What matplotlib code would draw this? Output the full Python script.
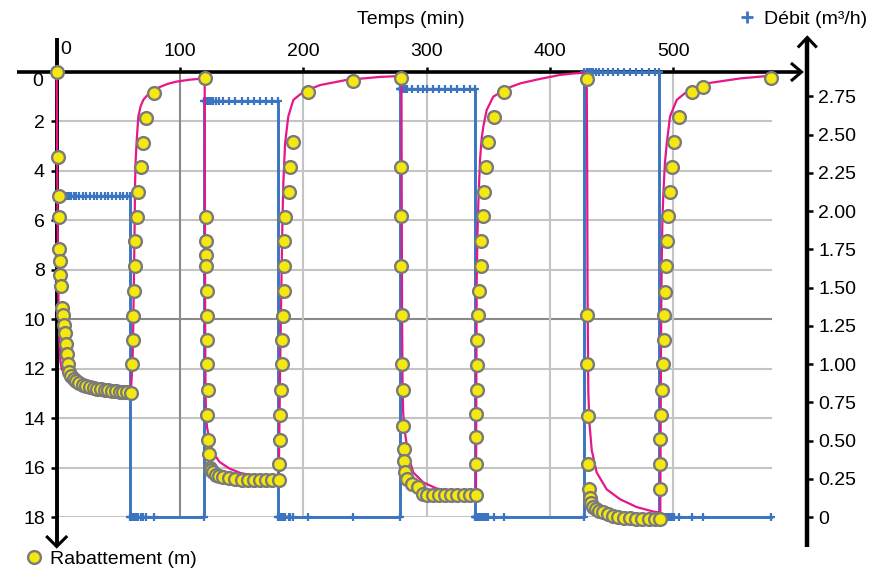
import numpy as np
import matplotlib
matplotlib.use("Agg")
import matplotlib.pyplot as plt
from matplotlib.lines import Line2D

plt.rcParams['font.family'] = ['Liberation Sans', 'DejaVu Sans']

# ---------------------------------------------------------------------------
# Observed drawdown (m) for each stage of the step test, time in minutes
# ---------------------------------------------------------------------------
t_pompage1 = [0, 1.0, 1.7, 1.9, 2.1, 2.7, 2.9, 3.5, 4.5, 5.3, 6.1, 6.7, 7.3, 8.1, 8.9, 10.2,
              12, 14, 16, 18, 21, 24, 27, 30, 33, 36, 39, 42, 45, 48, 51, 54, 57, 60]
s_pompage1 = [0, 3.45, 5.0, 5.85, 7.17, 7.65, 8.2, 8.66, 9.54, 9.84, 10.24, 10.55, 11.0, 11.4, 11.8, 12.13,
              12.3, 12.42, 12.5, 12.57, 12.65, 12.7, 12.75, 12.78, 12.81, 12.84, 12.86, 12.88, 12.9, 12.92,
              12.93, 12.95, 12.96, 12.98]

t_remontee1 = [60.8, 61.6, 62.1, 62.7, 63.3, 63.6, 65.2, 65.6, 68.1, 69.7, 72.2, 79.2, 120.0]
s_remontee1 = [11.83, 10.85, 9.86, 8.85, 7.84, 6.85, 5.85, 4.86, 3.83, 2.86, 1.85, 0.86, 0.26]

t_pompage2 = [121.0, 120.8, 120.8, 121.0, 121.5, 121.5, 121.8, 122.0, 122.3, 122.1, 122.7, 123.8, 124.3,
              125.5, 127, 129, 132, 135, 140, 145, 150, 155, 160, 165, 170, 175, 180]
s_pompage2 = [5.85, 6.85, 7.4, 7.84, 8.85, 9.86, 10.85, 11.83, 12.87, 13.86, 14.9, 15.47, 16.0,
              16.1, 16.2, 16.3, 16.36, 16.4, 16.44, 16.47, 16.5, 16.5, 16.5, 16.5, 16.5, 16.5, 16.5]

t_remontee2 = [180.5, 180.9, 181.1, 181.7, 182.5, 182.7, 183.5, 184.1, 184.6, 184.6, 185.2, 188.6,
               189.2, 191.4, 204.0, 240.0, 279.5]
s_remontee2 = [15.85, 14.87, 13.86, 12.87, 11.83, 10.85, 9.86, 8.85, 7.84, 6.85, 5.85, 4.85,
               3.83, 2.85, 0.82, 0.36, 0.26]

t_pompage3 = [279.5, 279.5, 279.6, 280.3, 280.4, 280.5, 281.1, 281.7, 281.9, 282.5, 284, 288, 293,
              297, 300, 305, 310, 315, 320, 325, 330, 335, 340]
s_pompage3 = [3.83, 5.83, 7.83, 9.84, 11.82, 12.85, 14.33, 15.25, 15.74, 16.18, 16.45, 16.65, 16.8,
              17.05, 17.1, 17.12, 17.12, 17.12, 17.12, 17.12, 17.12, 17.12, 17.12]

t_remontee3 = [340.1, 340.2, 340.3, 340.6, 340.6, 340.7, 341.4, 342.5, 344.2, 344.4, 346.0, 346.8,
               348.2, 349.5, 354.7, 363.0, 429.8]
s_remontee3 = [15.85, 14.78, 13.85, 12.85, 11.86, 10.85, 9.84, 8.85, 7.83, 6.84, 5.83, 4.85,
               3.83, 2.82, 1.83, 0.82, 0.28]

t_pompage4 = [430.0, 430.0, 430.7, 431.1, 431.7, 432.5, 433.5, 435.2, 437.5, 440, 443.3, 447, 451,
              455, 460, 465, 470, 475, 480, 485, 489.3]
s_pompage4 = [9.84, 11.8, 13.9, 15.85, 16.85, 17.25, 17.45, 17.6, 17.68, 17.74, 17.8, 17.88, 17.95,
              18.0, 18.04, 18.06, 18.07, 18.07, 18.07, 18.07, 18.07]

t_remontee4 = [489.0, 489.3, 489.5, 489.9, 490.7, 492.0, 492.2, 492.8, 493.2, 494.2, 494.7, 495.5,
               497.4, 498.8, 500.9, 504.7, 515.0, 524.4, 579.1]
s_remontee4 = [16.87, 15.85, 14.86, 13.86, 12.85, 11.82, 10.85, 9.84, 8.89, 7.83, 6.84, 5.83,
               4.85, 3.83, 2.82, 1.83, 0.82, 0.62, 0.23]

# ---------------------------------------------------------------------------
# Fitted drawdown curve (m)
# ---------------------------------------------------------------------------
tm_pompage1 = [0, 0.3, 0.6, 1.0, 1.5, 2.0, 2.5, 3.0, 4.0, 6.0, 10, 15, 20, 30, 40, 50, 60]
sm_pompage1 = [0, 3.0, 5.5, 7.5, 9.3, 10.5, 11.2, 11.7, 12.0, 12.2, 12.4, 12.55, 12.65, 12.77, 12.85, 12.9, 12.93]

tm_remontee1 = [60.5, 61.0, 61.6, 62.0, 62.5, 63.0, 63.3, 63.5, 64.0, 64.9, 66.2, 68.0, 70.2, 75, 81,
                90, 97, 108, 120]
sm_remontee1 = [12.6, 12.2, 11.5, 10.5, 8.8, 7.0, 5.8, 4.64, 3.6, 2.75, 1.8, 1.4, 1.13, 0.85, 0.66,
                0.48, 0.39, 0.31, 0.26]

tm_pompage2 = [120.2, 120.4, 120.7, 121.2, 122.0, 123.0, 124.3, 127, 132, 140, 149, 160, 170, 180]
sm_pompage2 = [5.0, 10.0, 13.0, 14.0, 14.4, 14.65, 15.0, 15.4, 15.77, 16.04, 16.22, 16.33, 16.41, 16.47]

tm_remontee2 = [180.3, 180.7, 181.2, 181.8, 182.4, 183.0, 183.8, 185.2, 187.8, 191.9, 200, 213.5,
                235, 262, 279.6]
sm_remontee2 = [15.5, 14.0, 12.0, 10.0, 8.0, 6.2, 4.5, 2.9, 1.8, 1.13, 0.8, 0.53, 0.32, 0.2, 0.16]

tm_pompage3 = [279.8, 280.1, 280.5, 281.0, 281.6, 282.5, 285.2, 289.2, 297.3, 308.2, 321.7, 340]
sm_pompage3 = [5.0, 10.0, 12.8, 13.8, 14.2, 14.6, 15.56, 16.2, 16.6, 16.85, 16.95, 17.02]

tm_remontee3 = [340.2, 340.4, 340.6, 341.2, 342.0, 343.3, 344.6, 346.0, 348.7, 354.0, 365, 376,
                390, 408, 419, 429.8]
sm_remontee3 = [14.5, 11.5, 8.5, 6.6, 5.2, 3.56, 2.7, 2.2, 1.54, 1.0, 0.66, 0.46, 0.3, 0.12, 0.06, 0.03]

tm_pompage4 = [430.2, 430.5, 431.1, 432.0, 433.9, 437.9, 446.0, 456.8, 470.4, 483.9, 489.5]
sm_pompage4 = [4.0, 9.0, 12.9, 14.2, 15.3, 16.2, 16.88, 17.28, 17.6, 17.78, 17.82]

tm_remontee4 = [489.7, 489.9, 490.2, 490.7, 491.2, 492.0, 493.2, 494.7, 497.4, 502.8, 510.9, 527.2,
                554.2, 579.0]
sm_remontee4 = [15.5, 13.0, 10.0, 7.6, 6.0, 4.9, 3.7, 2.9, 1.8, 1.13, 0.8, 0.46, 0.26, 0.15]

# ---------------------------------------------------------------------------
# Pumping rate (m3/h): start of each stage and its rate
# ---------------------------------------------------------------------------
debit_debut = [0, 59.5, 119.3, 179.3, 278.6, 339.3, 428.0, 488.7]
debit_valeur = [2.10, 0, 2.72, 0, 2.80, 0, 2.91, 0]
debit_fin = 579.0

# Axis ticks
temps_ticks = [100, 200, 300, 400, 500]
rab_ticks = [2, 4, 6, 8, 10, 12, 14, 16, 18]
debit_ticks = [0, 0.25, 0.5, 0.75, 1.0, 1.25, 1.5, 1.75, 2.0, 2.25, 2.5, 2.75]
debit_tick_labels = ['0', '0.25', '0.50', '0.75', '1.00', '1.25', '1.50', '1.75',
                     '2.00', '2.25', '2.50', '2.75']

# ---------------------------------------------------------------------------
W, H = 876, 571
YELLOW = '#f5e80f'
EDGE = '#7a7a7a'
PINK = '#e8168b'
BLUE = '#3b74c1'
GRID_LIGHT = '#c4c4c4'
GRID_DARK = '#8a8a8a'
FS = 14

fig = plt.figure(figsize=(W / 100, H / 100), dpi=100)

# plot box in pixels from the top-left corner
BL, BT, BR, BB = 56.7, 72.0, 771.9, 517.0
RIGHT_AXIS_X = 807.3


def fig_xy(px, py):
    return px / W, 1 - py / H


ax = fig.add_axes([BL / W, 1 - BB / H, (BR - BL) / W, (BB - BT) / H])
ax2 = ax.twinx()
ax.set_zorder(2)
ax2.set_zorder(1)
ax.patch.set_visible(False)

ax.set_xlim(0, 580)
ax.set_ylim(18, 0)
ax2.set_ylim(0, 2.91)

for a in (ax, ax2):
    for sp in a.spines.values():
        sp.set_visible(False)

# gridlines (drawn in the lower layer so the rate line sits above them)
for s in rab_ticks:
    ax2.add_line(Line2D([0, 580], [s, s], transform=ax.transData,
                        color=GRID_DARK if s == 10 else GRID_LIGHT, lw=1.5, zorder=0.5))
for t in temps_ticks:
    ax2.add_line(Line2D([t, t], [0, 18], transform=ax.transData,
                        color=GRID_DARK if t == 100 else GRID_LIGHT, lw=1.5, zorder=0.5))


# black axis lines with open arrow heads
def fig_line(pts, lw):
    xs, ys = zip(*[fig_xy(px, py) for px, py in pts])
    ax2.add_line(Line2D(xs, ys, transform=fig.transFigure, color='black', lw=lw,
                        clip_on=False, zorder=1, solid_joinstyle='miter', solid_capstyle='butt'))


fig_line([(16.7, BT), (801.0, BT)], 2.6)
fig_line([(791.0, BT - 9.0), (801.5, BT), (791.0, BT + 9.0)], 2.2)
fig_line([(BL, 37.5), (BL, 546.0)], 2.8)
fig_line([(BL - 10.5, 536.0), (BL, 546.5), (BL + 10.5, 536.0)], 2.2)
fig_line([(RIGHT_AXIS_X, 38.0), (RIGHT_AXIS_X, 547.0)], 3.2)
fig_line([(RIGHT_AXIS_X - 9.5, 47.5), (RIGHT_AXIS_X, 37.5), (RIGHT_AXIS_X + 9.5, 47.5)], 2.2)

# pumping rate steps with a marker at each reading
t_obs_all = (t_pompage1 + t_remontee1 + t_pompage2 + t_remontee2 + t_pompage3 + t_remontee3
             + t_pompage4 + t_remontee4)
bornes = debit_debut + [debit_fin]
tq, q = [], []
for k, rate in enumerate(debit_valeur):
    a, b = bornes[k], bornes[k + 1]
    pts = [a] + sorted(t for t in t_obs_all if a < t < b) + [b]
    tq += pts
    q += [rate] * len(pts)
ax2.plot(tq, q, color=BLUE, lw=2.1, marker='+', ms=6, mew=1.6, clip_on=False, zorder=3)

# fitted drawdown curve
tm = (tm_pompage1 + tm_remontee1 + tm_pompage2 + tm_remontee2 + tm_pompage3 + tm_remontee3
      + tm_pompage4 + tm_remontee4)
sm = (sm_pompage1 + sm_remontee1 + sm_pompage2 + sm_remontee2 + sm_pompage3 + sm_remontee3
      + sm_pompage4 + sm_remontee4)
ax.plot(tm, sm, color=PINK, lw=1.6, zorder=2, clip_on=False)

# observed drawdown
s_obs_all = (s_pompage1 + s_remontee1 + s_pompage2 + s_remontee2 + s_pompage3 + s_remontee3
             + s_pompage4 + s_remontee4)
obs_line, = ax.plot(t_obs_all, s_obs_all, ls='none', marker='o', ms=9.2, mfc=YELLOW, mec=EDGE,
                    mew=1.7, clip_on=False, zorder=3)

# ticks
ax.xaxis.tick_top()
ax.set_xticks(temps_ticks)
ax.set_xticklabels([str(v) for v in temps_ticks])
ax.tick_params(axis='x', direction='out', length=3.5, width=1.8, pad=5.5, labelsize=FS,
               top=True, bottom=False, labeltop=True, labelbottom=False)
ax.set_yticks(rab_ticks)
ax.set_yticklabels([str(v) for v in rab_ticks])
ax.tick_params(axis='y', direction='out', length=4, width=1.8, pad=4.5, labelsize=FS)

ax2.spines['right'].set_position(('axes', (RIGHT_AXIS_X - BL) / (BR - BL)))
ax2.set_yticks(debit_ticks)
ax2.set_yticklabels(debit_tick_labels)
ax2.tick_params(axis='y', direction='out', length=4, width=1.8, pad=4, labelsize=FS)

# origin labels, nudged away from the axis crossing
ax.annotate('0', xy=(0, 1), xycoords='axes fraction', xytext=(9.3, 23), textcoords='offset pixels',
            ha='center', va='center', fontsize=FS)
ax.annotate('0', xy=(0, 1), xycoords='axes fraction', xytext=(-13.5, -9.7), textcoords='offset pixels',
            ha='right', va='center', fontsize=FS)

# axis titles / legends
fig.text(*fig_xy(410.8, 19), 'Temps (min)', ha='center', va='center', fontsize=FS)

fig.legend(handles=[obs_line], labels=['Rabattement (m)'], loc='center left',
           bbox_to_anchor=fig_xy(26.5, 559), frameon=False, borderpad=0, borderaxespad=0,
           handlelength=0.8, handletextpad=0.4, numpoints=1, fontsize=FS)
debit_handle = Line2D([], [], ls='none', marker='+', color=BLUE, ms=8, mew=2)
fig.legend(handles=[debit_handle], labels=['Débit (m³/h)'], loc='center left',
           bbox_to_anchor=fig_xy(738.9, 19), frameon=False, borderpad=0, borderaxespad=0,
           handlelength=0.8, handletextpad=0.5, numpoints=1, fontsize=FS)

fig.savefig('out.png', dpi=100, facecolor='white')
